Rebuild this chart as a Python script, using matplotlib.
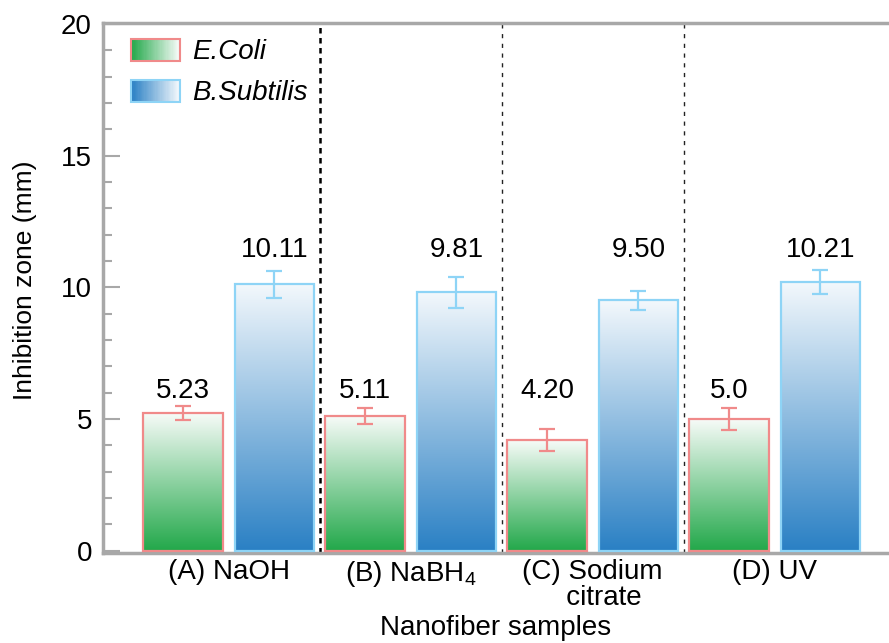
import matplotlib
matplotlib.use("Agg")
import matplotlib.pyplot as plt
from matplotlib.colors import LinearSegmentedColormap
from matplotlib.legend_handler import HandlerBase
from matplotlib.patches import Rectangle, Patch
from matplotlib.ticker import MultipleLocator
import numpy as np

plt.rcParams['font.family'] = ['Liberation Sans', 'DejaVu Sans']
plt.rcParams['mathtext.fontset'] = 'custom'
plt.rcParams['mathtext.rm'] = 'Liberation Sans'

# data
samples = ["(A) NaOH", "(B) NaBH$_4$", "(C) Sodium\n   citrate", "(D) UV"]
ecoli = [5.23, 5.11, 4.20, 5.0]
ecoli_err = [0.25, 0.3, 0.41, 0.4]
ecoli_labels = ["5.23", "5.11", "4.20", "5.0"]
bsub = [10.11, 9.81, 9.50, 10.21]
bsub_err = [0.51, 0.58, 0.37, 0.45]
bsub_labels = ["10.11", "9.81", "9.50", "10.21"]

GREEN = '#22a84a'
BLUE = '#2a80c4'
RED_EDGE = '#f08a8a'
BLUE_EDGE = '#8ed4f6'
SPINE = '#a8a8a8'

cmap_g = LinearSegmentedColormap.from_list('g', [GREEN, '#f7fbf8'])
cmap_b = LinearSegmentedColormap.from_list('b', [BLUE, '#f3f8fc'])


class GradientHandler(HandlerBase):
    def __init__(self, cmap, edge):
        super().__init__()
        self.cmap = cmap
        self.edge = edge

    def create_artists(self, legend, orig_handle, xdescent, ydescent,
                       width, height, fontsize, trans):
        n = 40
        arts = []
        for k in range(n):
            arts.append(Rectangle((-xdescent + width * k / n, -ydescent),
                                  width / n * 1.1, height,
                                  facecolor=self.cmap(k / (n - 1)),
                                  edgecolor='none', transform=trans))
        arts.append(Rectangle((-xdescent, -ydescent), width, height,
                              facecolor='none', edgecolor=self.edge,
                              linewidth=1.5, transform=trans))
        return arts


fig = plt.figure(figsize=(8.89, 6.43), dpi=100)
ax = fig.add_axes([103 / 889, 90 / 643, 786 / 889, 530.3 / 643])

x = np.arange(len(samples))
w = 0.437
off = 0.251

grad = np.linspace(0, 1, 256).reshape(-1, 1)
for xs, vals, errs, cmap, edge in [(x - off, ecoli, ecoli_err, cmap_g, RED_EDGE),
                                   (x + off, bsub, bsub_err, cmap_b, BLUE_EDGE)]:
    bars = ax.bar(xs, vals, w, color='none', edgecolor=edge, linewidth=1.6, zorder=3)
    for r in bars:
        ax.imshow(grad, extent=(r.get_x(), r.get_x() + r.get_width(), 0, r.get_height()),
                  origin='lower', cmap=cmap, aspect='auto', zorder=2)
    ax.errorbar(xs, vals, yerr=errs, fmt='none', ecolor=edge, elinewidth=1.6,
                capsize=5.5, capthick=1.6, zorder=4)

for i in range(len(samples)):
    ax.text(x[i] - off, 5.81, ecoli_labels[i], ha='center', va='baseline', fontsize=20)
    ax.text(x[i] + off, 11.14, bsub_labels[i], ha='center', va='baseline', fontsize=20)

ax.axvline(0.5, color='black', lw=1.8, linestyle=(0, (2.2, 1.8)), zorder=1)
ax.axvline(1.5, color='#222222', lw=1.0, linestyle=(0, (3, 4)), zorder=1)
ax.axvline(2.5, color='#222222', lw=1.0, linestyle=(0, (3, 4)), zorder=1)

ax.set_xlim(-0.691, 3.628)
ax.set_ylim(-0.09, 20.05)

ax.set_xticks(x)
ax.set_xticklabels(samples, fontsize=20, linespacing=1.0)
ax.tick_params(axis='x', length=0, pad=4)
ax.yaxis.set_major_locator(MultipleLocator(5))
ax.yaxis.set_minor_locator(MultipleLocator(1))
ax.tick_params(axis='y', which='major', direction='in', length=12, width=1.5,
               color=SPINE, labelsize=20, pad=8)
ax.tick_params(axis='y', which='minor', direction='in', length=6.5, width=1.5, color=SPINE)

for s in ['left', 'top', 'bottom']:
    ax.spines[s].set_color(SPINE)
    ax.spines[s].set_linewidth(2.5)
ax.spines['right'].set_visible(False)

ax.set_ylabel("Inhibition zone (mm)", fontsize=19)
ax.yaxis.set_label_coords(-0.084, 0.515)
ax.set_xlabel("Nanofiber samples", fontsize=20)
ax.xaxis.set_label_coords(0.5, -0.116)

h1 = Patch(label='E.Coli')
h2 = Patch(label='B.Subtilis')
leg = ax.legend(handles=[h1, h2], loc='upper left', bbox_to_anchor=(0.0356, 0.970),
                frameon=False, handlelength=1.76, handleheight=0.86,
                handletextpad=0.45, labelspacing=0.51, borderpad=0, borderaxespad=0,
                prop={'size': 20, 'style': 'italic'},
                handler_map={h1: GradientHandler(cmap_g, RED_EDGE),
                             h2: GradientHandler(cmap_b, BLUE_EDGE)})

fig.savefig('out.png', dpi=100)
